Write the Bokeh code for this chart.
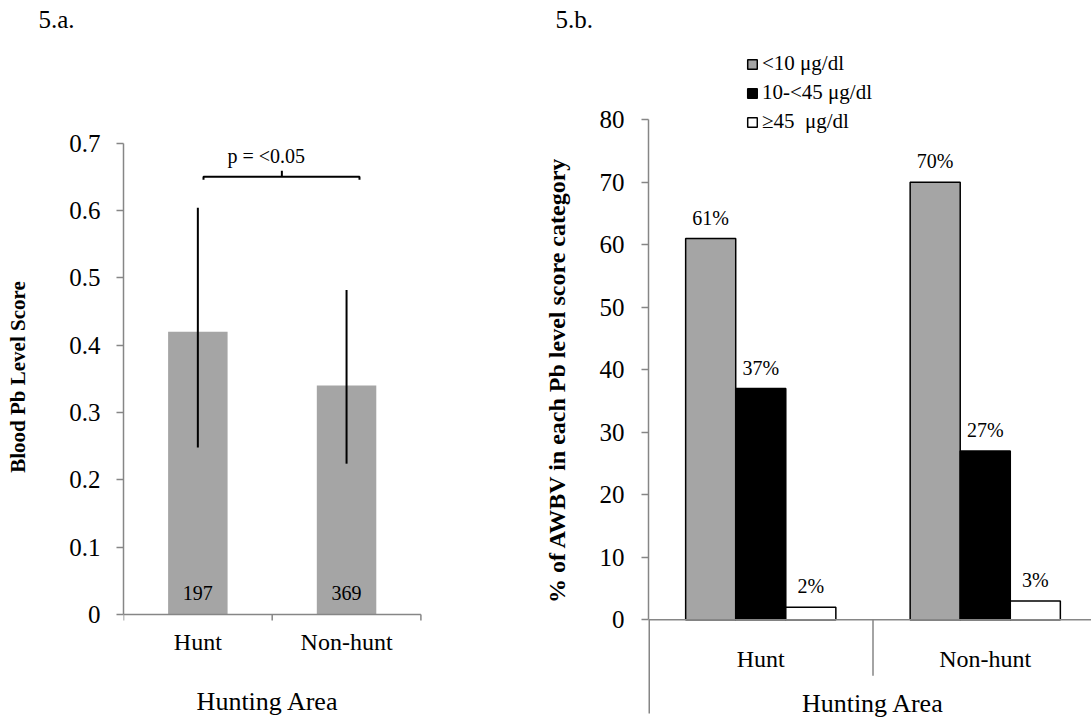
import math

from bokeh.plotting import figure
from bokeh.layouts import row
from bokeh.core.properties import value
from bokeh.models import (Range1d, FixedTicker, NumeralTickFormatter, Label, LabelSet,
                          ColumnDataSource, Legend, LegendItem, Title)
from bokeh.embed import file_html
from bokeh.resources import INLINE

# ---- 5.a: mean blood Pb level score by hunting area ----
areas = ["Hunt", "Non-hunt"]
score_mean = [0.42, 0.34]
score_lower = [0.248, 0.224]
score_upper = [0.604, 0.482]
sample_n = [197, 369]
score_ticks = [0, 0.1, 0.2, 0.3, 0.4, 0.5, 0.6, 0.7]
p_text = "p = <0.05"

# ---- 5.b: share of AWBV in each Pb level category ----
pb_levels = ["<10 \u03bcg/dl", "10-<45 \u03bcg/dl", "\u226545  \u03bcg/dl"]
pct_hunt = [61, 37, 2]
pct_nonhunt = [70, 27, 3]
pct_ticks = [0, 10, 20, 30, 40, 50, 60, 70, 80]

FONT = "Liberation Serif"
AXIS_GRAY = "#868686"
BAR_GRAY = "#A5A5A5"
LEVEL_FILLS = [BAR_GRAY, "black", "white"]

H = 719          # canvas height
TOP = 34         # room kept above each plot area for the panel tag


def make_panel(width, left_border, cat_px, zero_px, top_val, top_px, tag, tag_offset):
    """Plot area runs from TOP to the bottom edge; the value axis is scaled so that
    0 sits at zero_px and top_val at top_px (pixels from the top of the canvas)."""
    per_px = top_val / (zero_px - top_px)
    y0 = -(H - zero_px) * per_px
    y1 = top_val + (top_px - TOP) * per_px
    x1 = (width - left_border) / cat_px
    p = figure(width=width, height=H, output_backend="svg", toolbar_location=None,
               x_range=Range1d(0, x1), y_range=Range1d(y0, y1), x_axis_location=None,
               min_border_left=left_border, min_border_right=0, min_border_top=TOP,
               min_border_bottom=0)
    p.grid.visible = False
    p.outline_line_color = None
    p.background_fill_color = "white"
    p.border_fill_color = "white"
    p.add_layout(Title(text=tag, align="left", offset=tag_offset, text_font=FONT,
                       text_font_size="25px", text_font_style="normal",
                       text_color="black", standoff=4), "above")
    ax = p.yaxis[0]
    ax.bounds = (0, top_val)
    ax.axis_line_color = AXIS_GRAY
    ax.axis_line_width = 1.5
    ax.major_tick_line_color = AXIS_GRAY
    ax.major_tick_line_width = 1.5
    ax.major_tick_in = 0
    ax.major_tick_out = 7
    ax.minor_tick_line_color = None
    ax.major_label_text_font = FONT
    ax.major_label_text_font_size = "25px"
    ax.major_label_text_color = "black"
    ax.axis_label_text_font = FONT
    ax.axis_label_text_font_style = "bold"
    ax.axis_label_text_color = "black"
    return p, per_px


def category_axis(p, per_px, n_cats, x_end, tick_xs, tick_px, label_px, title_x, title_px):
    """Baseline, category separators, category names and axis title, drawn in data space."""
    p.segment(x0=[0], y0=[0], x1=[x_end], y1=[0], line_color=AXIS_GRAY, line_width=1.5)
    p.segment(x0=tick_xs, y0=[0] * len(tick_xs), x1=tick_xs,
              y1=[-px * per_px for px in tick_px], line_color=AXIS_GRAY, line_width=1.5)
    centers = [i + 0.5 for i in range(n_cats)]
    p.text(x=centers, y=[-label_px * per_px] * n_cats, text=areas,
           text_font=value(FONT), text_font_size="24px", text_align="center",
           text_baseline="middle", text_color="black")
    p.text(x=[title_x], y=[-title_px * per_px], text=["Hunting Area"],
           text_font=value(FONT), text_font_size="26px", text_align="center",
           text_baseline="middle", text_color="black")


# ================= left panel =================
pa, per_a = make_panel(520, 123, 148.7, 614.0, 0.7, 142.7, "5.a.", -85)
xa = [i + 0.5 for i in range(len(areas))]

src_a = ColumnDataSource(dict(x=xa, mean=score_mean, lo=score_lower, hi=score_upper,
                              zero=[0] * len(areas), n=[str(v) for v in sample_n]))
pa.vbar(x="x", top="mean", bottom=0, width=0.4, fill_color=BAR_GRAY, line_color=None,
        source=src_a)
pa.segment(x0="x", y0="lo", x1="x", y1="hi", line_color="black", line_width=2,
           source=src_a)
pa.add_layout(LabelSet(x="x", y="zero", text="n", source=src_a, y_offset=22,
                       text_align="center", text_baseline="middle", text_font=FONT,
                       text_font_size="20px", text_color="black"))

# significance bracket between the two areas
br_left, br_right, br_y, br_mid = 0.538, 1.587, 0.65, 1.065
pa.line(x=[br_left, br_left, br_right, br_right],
        y=[br_y - 3 * per_a, br_y, br_y, br_y - 3 * per_a], line_color="black",
        line_width=2)
pa.segment(x0=[br_mid], y0=[br_y], x1=[br_mid], y1=[br_y + 6 * per_a],
           line_color="black", line_width=2)
pa.add_layout(Label(x=0.96, y=0.681, text=p_text, text_font=FONT, text_font_size="20px",
                    text_align="center", text_baseline="middle", text_color="black"))

ya_axis = pa.yaxis[0]
ya_axis.ticker = FixedTicker(ticks=score_ticks, minor_ticks=[])
ya_axis.formatter = NumeralTickFormatter(format="0.[0]")
ya_axis.major_label_standoff = 16
ya_axis.axis_label = "Blood Pb Level Score"
ya_axis.axis_label_text_font_size = "21px"
ya_axis.axis_label_standoff = 36

category_axis(pa, per_a, len(areas), len(areas), [0, 1, 2], [6, 6, 6], 27.7, 0.97, 87)

# ================= right panel =================
pb, per_b = make_panel(571, 128, 224.5, 619.3, 80, 119.3, "5.b.", -93)
xb = [i + 0.5 for i in range(len(areas))]

bar_w = 0.223
items = []
for k, level in enumerate(pb_levels):
    off = (k - 1) * bar_w
    tops = [pct_hunt[k], pct_nonhunt[k]]
    src = ColumnDataSource(dict(x=[x + off for x in xb], top=tops,
                                label=[f"{v}%" for v in tops]))
    r = pb.vbar(x="x", top="top", bottom=0, width=bar_w, fill_color=LEVEL_FILLS[k],
                line_color="black", line_width=1.5, source=src)
    pb.add_layout(LabelSet(x="x", y="top", text="label", source=src, y_offset=21,
                           text_align="center", text_baseline="middle", text_font=FONT,
                           text_font_size="20px", text_color="black"))
    items.append(LegendItem(label=level, renderers=[r]))

legend = Legend(items=items, location=(98, H - 136), padding=0, spacing=0, margin=0,
                label_height=29, glyph_height=12, glyph_width=12, label_standoff=4,
                border_line_alpha=0, background_fill_alpha=0, label_text_font=FONT,
                label_text_font_size="21px", label_text_color="black")
pb.add_layout(legend)

yb_axis = pb.yaxis[0]
yb_axis.ticker = FixedTicker(ticks=pct_ticks, minor_ticks=[])
yb_axis.major_label_standoff = 17
yb_axis.axis_label = "% of AWBV in each Pb  level score category"
yb_axis.axis_label_text_font_size = "24px"
yb_axis.axis_label_standoff = 27

# value axis runs on below the baseline, past the category row
pb.segment(x0=[0], y0=[0], x1=[0], y1=[-93.7 * per_b], line_color=AXIS_GRAY, line_width=3)
category_axis(pb, per_b, len(areas), 443 / 224.5, [1], [56], 38.7, 1.0, 84)

layout = row(pa, pb)
open("out.html", "w").write(file_html(layout, INLINE))
